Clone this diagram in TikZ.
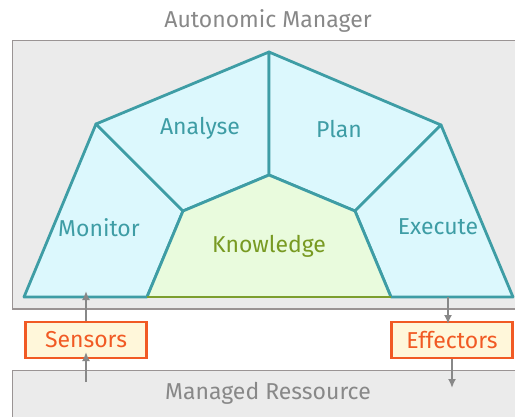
\documentclass[tikz,border=0pt]{standalone}
\usepackage{fontspec}
\setmainfont{Fira Sans}
\usetikzlibrary{arrows.meta}
\definecolor{teal1}{HTML}{3E9DA5}
\definecolor{cyanfill}{HTML}{DCF8FD}
\definecolor{kfill}{HTML}{E9FBDD}
\definecolor{kline}{HTML}{7C9E2E}
\definecolor{ktext}{HTML}{789A22}
\definecolor{graytext}{HTML}{888888}
\definecolor{grayfill}{HTML}{EBEBEB}
\definecolor{grayline}{HTML}{9A9494}
\definecolor{orange1}{HTML}{F15A24}
\definecolor{boxfill}{HTML}{FFF7DA}
\definecolor{arrgray}{HTML}{888888}
\tikzset{
  region/.style={draw=teal1, fill=cyanfill, line width=2.8pt, line join=round},
  know/.style={fill=kfill, draw=none},
  lbl/.style={text=teal1, font=\fontsize{23}{25}\selectfont, inner sep=0pt},
  klbl/.style={text=ktext, font=\fontsize{23}{25}\selectfont, inner sep=0pt},
  glbl/.style={text=graytext, font=\fontsize{23}{25}\selectfont, inner sep=0pt},
  iobox/.style={draw=orange1, fill=boxfill, line width=2.8pt, text=orange1, font=\fontsize{23}{25}\selectfont, minimum width=121pt, minimum height=36pt, inner sep=0pt},
  area/.style={fill=grayfill, draw=grayline, line width=1.3pt},
  arr/.style={draw=arrgray, line width=2.6pt, -{Latex[length=9pt,width=8pt]}}
}
\begin{document}
\begin{tikzpicture}[x=1pt,y=-1pt]
\useasboundingbox (0,0) rectangle (515,416);
% areas
\draw[area] (12.5,40.5) rectangle (540,309);
\draw[area] (12.5,370.5) rectangle (540,440);
\node[glbl] (amtitle) at (268,21) {Autonomic Manager};
\node[glbl] (mrtitle) at (268,393) {Managed Ressource};
% coordinates
\coordinate (apex) at (269,52);
\coordinate (lu) at (96,124);
\coordinate (ru) at (441,125);
\coordinate (lb) at (24,297);
\coordinate (rb) at (513,297);
\coordinate (kt) at (269,175);
\coordinate (kl) at (183,211);
\coordinate (kr) at (355,211);
\coordinate (kbl) at (147,297);
\coordinate (kbr) at (391,297);
% regions
\draw[region] (lb) -- (lu) -- (kl) -- (kbl) -- cycle;
\draw[region] (lu) -- (apex) -- (kt) -- (kl) -- cycle;
\draw[region] (apex) -- (ru) -- (kr) -- (kt) -- cycle;
\draw[region] (ru) -- (rb) -- (kbr) -- (kr) -- cycle;
\fill[know] (kbl) -- (kl) -- (kt) -- (kr) -- (kbr) -- cycle;
\draw[teal1, line width=2.8pt, line join=round] (kbl) -- (kl) -- (kt) -- (kr) -- (kbr);
\draw[kline, line width=2.8pt] (kbl) -- (kbr);
% labels
\node[lbl] (analyse) at (200,128) {Analyse};
\node[lbl] (plan) at (339,129) {Plan};
\node[lbl] (monitor) at (99,228) {Monitor};
\node[lbl] (execute) at (438,227) {Execute};
\node[klbl] (knowledge) at (269,246) {Knowledge};
% io boxes
\node[iobox] (sensors) at (86,340) {Sensors};
\node[iobox] (effectors) at (452,340) {Effectors};
\coordinate (sin) at (86,382);
\coordinate (sout) at (86,291);
\coordinate (ein) at (448,297);
\coordinate (eout) at (452,388);
\draw[arr] (sensors.north) -- (sout);
\draw[arr] (sin) -- (86,352);
\draw[arr] (ein) -- (448,324);
\draw[arr] (effectors.south -| eout) -- (eout);
\end{tikzpicture}
\end{document}
